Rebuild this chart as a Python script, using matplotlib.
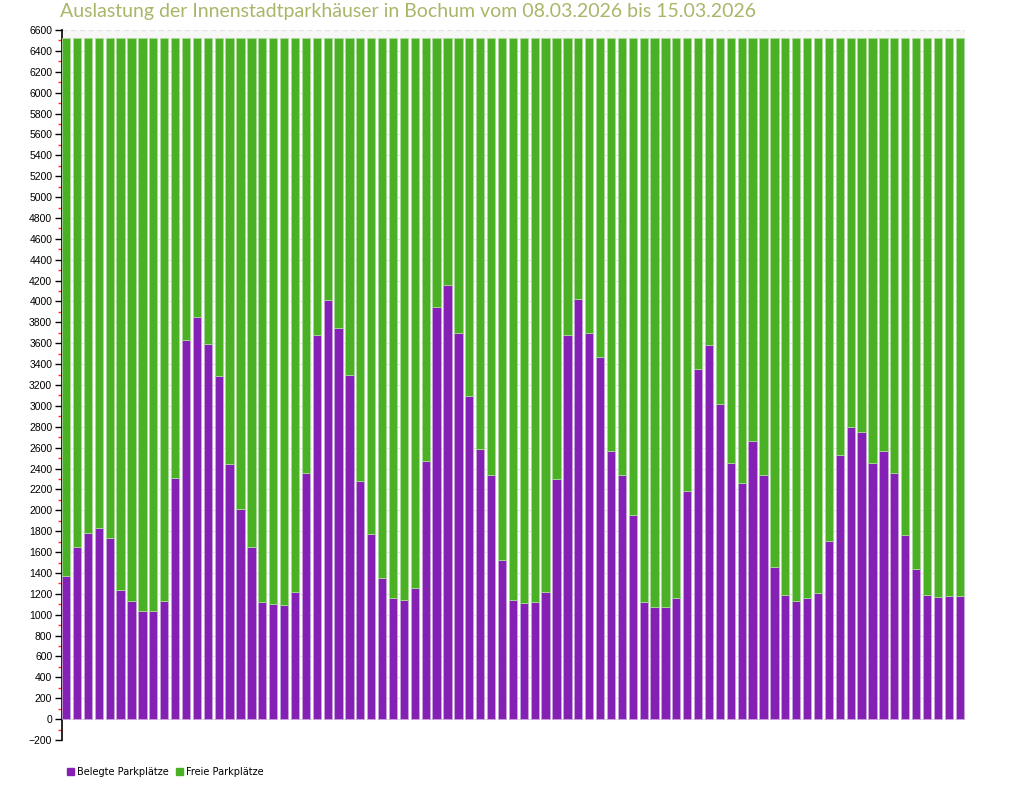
import matplotlib
matplotlib.use('Agg')
import matplotlib.pyplot as plt
import numpy as np
from matplotlib.ticker import MultipleLocator
from matplotlib.patches import Patch

# Stündliche Werte, 08.03.2026 - 15.03.2026
belegt = [
    1375, 1650, 1780, 1830, 1735, 1236, 1130, 1035, 1035, 1130,
    2309, 3631, 3851, 3592, 3286, 2443, 2012, 1648, 1121, 1102,
    1092, 1214, 2357, 3679, 4014, 3746, 3296, 2280, 1772, 1356,
    1164, 1140, 1260, 2472, 3947, 4158, 3698, 3094, 2587, 2338,
    1525, 1142, 1111, 1126, 1217, 2299, 3679, 4024, 3698, 3468,
    2567, 2338, 1954, 1126, 1072, 1072, 1160, 2184, 3353, 3583,
    3018, 2452, 2261, 2663, 2338, 1460, 1188, 1132, 1162, 1205,
    1705, 2529, 2797, 2749, 2452, 2567, 2357, 1760, 1434, 1188,
    1169, 1180, 1180,
]
kapazitaet = 6527
frei = [kapazitaet - b for b in belegt]

titel = 'Auslastung der Innenstadtparkhäuser in Bochum vom 08.03.2026 bis 15.03.2026'
farbe_belegt = '#8421b4'
farbe_frei = '#4ab124'

fig = plt.figure(figsize=(10.24, 8), dpi=100)
ax = fig.add_axes([62/1024, 1 - 740/800, (965 - 62)/1024, (740 - 30)/800])

x = np.arange(len(belegt))
ax.bar(x, belegt, width=0.76, color=farbe_belegt, edgecolor='#c9a3dc', linewidth=0.6, zorder=3)
ax.bar(x, frei, width=0.76, bottom=belegt, color=farbe_frei, edgecolor='#a9d99a', linewidth=0.6, zorder=3)

ax.set_xlim(-0.38, 82.49)
ax.set_ylim(-200, 6600)
ax.axhspan(kapazitaet, 6600, color='#f7f7f7', zorder=0)

ax.yaxis.set_major_locator(MultipleLocator(200))
ax.yaxis.set_minor_locator(MultipleLocator(100))
ax.tick_params(axis='y', which='major', length=5, width=1, color='black',
               labelsize=7.5, pad=2)
ax.tick_params(axis='y', which='minor', length=3, width=1, color='#ff3030')
for lbl in ax.get_yticklabels():
    lbl.set_fontfamily('Liberation Sans')
ax.set_xticks([])
ax.grid(axis='y', which='major', color='#e2e2e2', linestyle=(0, (4, 3)), linewidth=0.9, zorder=1)

for side in ['top', 'right', 'bottom']:
    ax.spines[side].set_visible(False)
ax.spines['left'].set_linewidth(1.2)

fig.text(60/1024, 1 - 12/800, titel, color='#a9b668', fontsize=14, family='Lato',
         va='center', ha='left')

handles = [Patch(color=farbe_belegt, label='Belegte Parkplätze'),
           Patch(color=farbe_frei, label='Freie Parkplätze')]
fig.legend(handles=handles, loc='center left', bbox_to_anchor=(62/1024, 1 - 772/800),
           ncol=2, frameon=False, fontsize=7, handlelength=0.7, handleheight=0.7,
           handletextpad=0.3, columnspacing=0.8, borderpad=0)

fig.savefig('out.png', dpi=100)
